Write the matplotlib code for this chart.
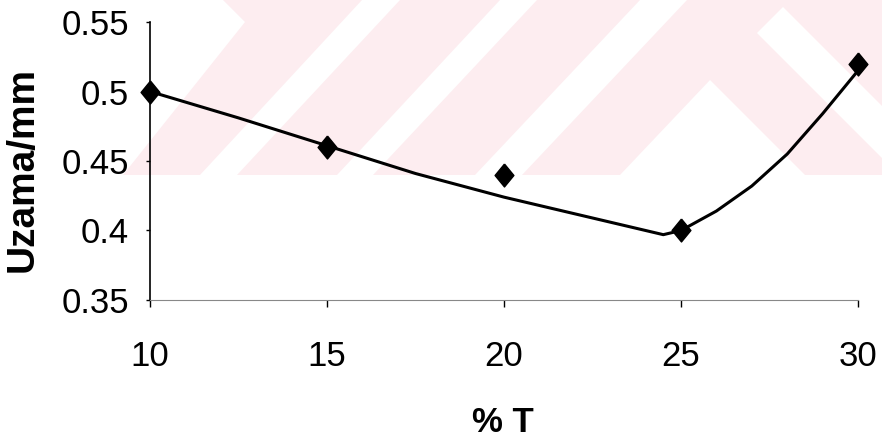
import matplotlib
matplotlib.use("Agg")
import matplotlib.pyplot as plt
from matplotlib.patches import Polygon

# measured points
t_pct = [10, 15, 20, 25, 30]
uzama = [0.50, 0.46, 0.44, 0.40, 0.52]

# trend curve
curve_x = [10, 12.5, 15, 17.5, 20, 22.5, 24.5, 25, 26, 27, 28, 29, 30]
curve_y = [0.500, 0.481, 0.461, 0.441, 0.424, 0.409, 0.397, 0.400, 0.414, 0.432, 0.455, 0.484, 0.515]

xticks = [10, 15, 20, 25, 30]
yticks = [0.35, 0.4, 0.45, 0.5, 0.55]
yticklabels = ["0.35", "0.4", "0.45", "0.5", "0.55"]

plt.rcParams['font.family'] = ['Liberation Sans', 'DejaVu Sans']

fig = plt.figure(figsize=(8.82, 4.44), dpi=100)

# faint pink watermark at the top (pixel coords -> figure coords)
W, H = 882.0, 444.0
def px(pts):
    return [(x / W, 1 - y / H) for x, y in pts]

pink = "#fdedf0"
shapes = [
    (pink, [(223, 0), (882, 0), (882, 175), (123, 175), (245, 22)]),
    ("white", [(362, 0), (400, 0), (237, 175), (200, 175)]),
    ("white", [(500, 0), (537, 0), (373, 175), (337, 175)]),
    ("white", [(640, 0), (687, 0), (522, 175), (475, 175)]),
    ("white", [(620, 175), (710, 80), (805, 175)]),
    ("white", [(783, 7), (882, 106), (882, 158), (757, 33)]),
]
for c, pts in shapes:
    fig.patches.append(Polygon(px(pts), closed=True, transform=fig.transFigure,
                               facecolor=c, edgecolor="none", zorder=-1))

ax = fig.add_axes([150 / W, 1 - 300 / H, 708 / W, 278 / H])
ax.patch.set_alpha(0)

ax.plot(curve_x, curve_y, color="black", lw=2.2, zorder=2)
diamond = [(0, 1), (0.82, 0), (0, -1), (-0.82, 0), (0, 1)]
ax.plot(t_pct, uzama, linestyle="none", marker=diamond, markersize=16.5,
        color="black", zorder=3, clip_on=False)

ax.set_xlim(10, 30)
ax.set_ylim(0.35, 0.55)
ax.set_xticks(xticks)
ax.set_yticks(yticks)
ax.set_yticklabels(yticklabels)
ax.tick_params(axis="both", labelsize=25, colors="black")
ax.tick_params(axis="x", direction="out", length=5, width=1, pad=24)
ax.tick_params(axis="y", direction="out", length=3, width=1, pad=12)

for sp in ["top", "right"]:
    ax.spines[sp].set_visible(False)
ax.spines["left"].set_linewidth(1.2)
ax.spines["bottom"].set_color("#888888")
ax.spines["bottom"].set_linewidth(0.8)

ax.set_ylabel("Uzama/mm", fontsize=28, fontweight="bold")
ax.yaxis.set_label_coords(-0.155, 0.468)
ax.set_xlabel("% T", fontsize=25, fontweight="bold")
ax.xaxis.set_label_coords(0.499, -0.38)

fig.savefig("out.png", dpi=100)
